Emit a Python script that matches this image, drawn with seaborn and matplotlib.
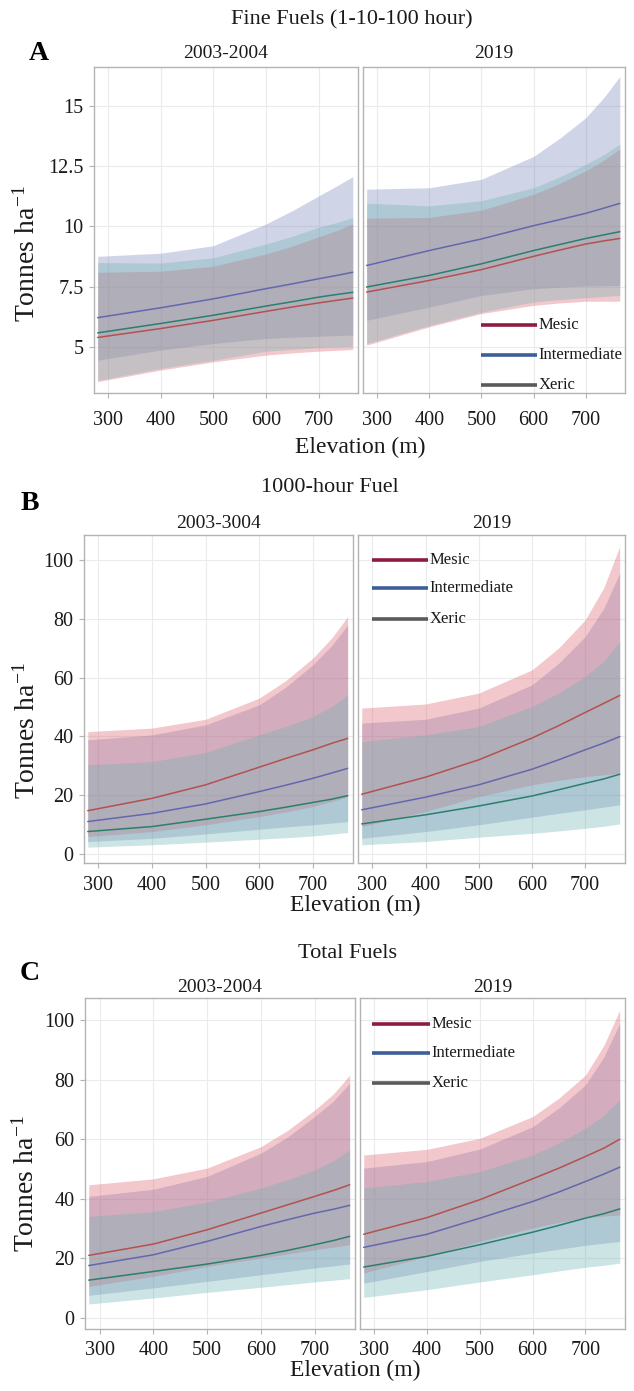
import numpy as np
import pandas as pd
import matplotlib
matplotlib.use("Agg")
import matplotlib.pyplot as plt
import seaborn as sns

# ---------------- data ----------------
elev = [280, 400, 500, 600, 650, 700, 735, 765]
types = ["Mesic", "Intermediate", "Xeric"]

# Panel A: Fine fuels, 2003-2004
a1_mes_fit = [5.40, 5.77, 6.11, 6.48, 6.66, 6.83, 6.94, 7.03]
a1_mes_lo = [3.57, 4.05, 4.39, 4.67, 4.76, 4.83, 4.87, 4.90]
a1_mes_hi = [8.10, 8.14, 8.35, 8.86, 9.18, 9.57, 9.83, 10.10]
a1_int_fit = [6.22, 6.63, 7.00, 7.42, 7.62, 7.83, 7.97, 8.10]
a1_int_lo = [4.46, 4.88, 5.15, 5.36, 5.41, 5.45, 5.48, 5.50]
a1_int_hi = [8.76, 8.89, 9.20, 10.10, 10.65, 11.26, 11.68, 12.06]
a1_xer_fit = [5.59, 5.98, 6.32, 6.70, 6.88, 7.07, 7.18, 7.27]
a1_xer_lo = [3.62, 4.12, 4.46, 4.83, 4.91, 4.98, 5.01, 5.04]
a1_xer_hi = [8.50, 8.48, 8.70, 9.27, 9.59, 9.96, 10.16, 10.37]
# Panel A: Fine fuels, 2019
a2_mes_fit = [7.28, 7.76, 8.21, 8.76, 9.02, 9.27, 9.40, 9.50]
a2_mes_lo = [5.08, 5.84, 6.39, 6.73, 6.83, 6.90, 6.90, 6.90]
a2_mes_hi = [10.34, 10.37, 10.67, 11.33, 11.78, 12.30, 12.75, 13.20]
a2_int_fit = [8.38, 9.00, 9.48, 10.03, 10.28, 10.54, 10.76, 10.95]
a2_int_lo = [6.11, 6.66, 7.14, 7.42, 7.48, 7.53, 7.54, 7.55]
a2_int_hi = [11.54, 11.60, 11.95, 12.90, 13.65, 14.50, 15.35, 16.20]
a2_xer_fit = [7.49, 7.97, 8.45, 9.00, 9.25, 9.50, 9.65, 9.78]
a2_xer_lo = [5.15, 5.90, 6.45, 6.87, 6.97, 7.05, 7.10, 7.14]
a2_xer_hi = [10.96, 10.85, 11.06, 11.60, 12.05, 12.57, 12.98, 13.40]

# Panel B: 1000-hour fuel, 2003-3004
b1_mes_fit = [14.7, 18.9, 23.5, 29.5, 32.5, 35.4, 37.6, 39.3]
b1_mes_lo = [5.9, 7.6, 9.9, 12.7, 14.3, 16.1, 17.8, 19.5]
b1_mes_hi = [41.6, 42.8, 45.8, 53.0, 59.0, 66.6, 73.4, 80.7]
b1_int_fit = [11.0, 13.8, 17.0, 21.2, 23.4, 25.7, 27.5, 29.1]
b1_int_lo = [4.2, 5.3, 6.8, 8.4, 9.2, 9.9, 10.5, 11.0]
b1_int_hi = [38.8, 40.5, 43.9, 50.7, 56.8, 64.3, 70.8, 77.9]
b1_xer_fit = [7.6, 9.3, 11.8, 14.4, 15.9, 17.5, 18.6, 19.8]
b1_xer_lo = [2.3, 3.1, 4.0, 5.0, 5.5, 6.1, 6.7, 7.3]
b1_xer_hi = [30.3, 31.4, 34.5, 40.5, 43.4, 46.7, 50.1, 54.1]
# Panel B: 1000-hour fuel, 2019
b2_mes_fit = [20.3, 26.1, 32.0, 39.4, 43.6, 48.1, 51.2, 53.9]
b2_mes_lo = [9.3, 14.4, 19.5, 23.5, 25.0, 26.3, 26.9, 27.4]
b2_mes_hi = [49.6, 51.0, 54.7, 62.6, 70.0, 79.6, 90.5, 104.6]
b2_int_fit = [15.0, 19.3, 23.5, 28.8, 32.0, 35.4, 37.7, 39.9]
b2_int_lo = [5.3, 7.6, 9.9, 12.5, 13.8, 15.0, 15.9, 16.7]
b2_int_hi = [44.5, 45.8, 49.6, 57.5, 64.8, 73.9, 83.5, 95.5]
b2_xer_fit = [10.2, 13.3, 16.3, 19.7, 21.8, 24.0, 25.5, 27.1]
b2_xer_lo = [3.1, 4.2, 5.7, 7.0, 7.8, 8.7, 9.4, 10.2]
b2_xer_hi = [38.2, 40.5, 43.3, 50.1, 54.7, 60.3, 65.6, 72.2]

# Panel C: Total fuels, 2003-2004
c1_mes_fit = [21.0, 24.8, 29.6, 35.2, 38.0, 40.8, 42.8, 44.7]
c1_mes_lo = [10.6, 14.0, 17.3, 20.1, 21.5, 22.9, 23.8, 24.6]
c1_mes_hi = [44.7, 46.7, 50.3, 57.5, 63.0, 69.8, 75.2, 81.5]
c1_int_fit = [17.6, 21.2, 25.7, 30.7, 33.0, 35.2, 36.5, 37.8]
c1_int_lo = [7.6, 10.1, 12.3, 14.5, 15.6, 16.8, 17.5, 18.1]
c1_int_hi = [40.8, 43.2, 47.5, 55.3, 60.8, 67.6, 72.8, 78.8]
c1_xer_fit = [12.7, 15.6, 18.1, 21.0, 22.7, 24.6, 26.0, 27.4]
c1_xer_lo = [4.7, 6.7, 8.6, 10.3, 11.2, 12.1, 12.7, 13.2]
c1_xer_hi = [34.1, 35.7, 38.9, 43.6, 46.4, 49.7, 52.8, 56.4]
# Panel C: Total fuels, 2019
c2_mes_fit = [28.1, 33.7, 39.7, 46.7, 50.3, 54.2, 57.0, 60.0]
c2_mes_lo = [15.1, 20.7, 25.7, 30.2, 32.1, 33.7, 34.2, 34.6]
c2_mes_hi = [54.7, 56.6, 60.3, 67.6, 73.8, 81.5, 91.5, 103.3]
c2_int_fit = [23.7, 28.1, 33.5, 39.1, 42.3, 45.8, 48.3, 50.6]
c2_int_lo = [11.7, 15.6, 19.0, 21.8, 23.1, 24.4, 25.1, 25.7]
c2_int_hi = [50.3, 52.5, 56.7, 64.2, 70.5, 78.2, 87.6, 98.9]
c2_xer_fit = [17.1, 20.7, 24.6, 28.8, 31.1, 33.5, 35.0, 36.6]
c2_xer_lo = [6.9, 9.5, 12.1, 14.5, 15.8, 17.0, 17.7, 18.4]
c2_xer_hi = [43.6, 45.8, 49.1, 54.7, 58.8, 63.7, 68.0, 73.2]

panel_titles = ["Fine Fuels (1-10-100 hour)", "1000-hour Fuel", "Total Fuels"]
panel_letters = ["A", "B", "C"]
period_labels = [["2003-2004", "2019"], ["2003-3004", "2019"], ["2003-2004", "2019"]]
x_ticks = [300, 400, 500, 600, 700]
y_ticks_a = [5, 7.5, 10, 12.5, 15]
y_tick_labels_a = ["5", "7.5", "10", "12.5", "15"]
y_ticks_bc = [0, 20, 40, 60, 80, 100]

# ---------------- assemble ----------------
series = {
    ("A", 0): (a1_mes_fit, a1_mes_lo, a1_mes_hi, a1_int_fit, a1_int_lo, a1_int_hi, a1_xer_fit, a1_xer_lo, a1_xer_hi),
    ("A", 1): (a2_mes_fit, a2_mes_lo, a2_mes_hi, a2_int_fit, a2_int_lo, a2_int_hi, a2_xer_fit, a2_xer_lo, a2_xer_hi),
    ("B", 0): (b1_mes_fit, b1_mes_lo, b1_mes_hi, b1_int_fit, b1_int_lo, b1_int_hi, b1_xer_fit, b1_xer_lo, b1_xer_hi),
    ("B", 1): (b2_mes_fit, b2_mes_lo, b2_mes_hi, b2_int_fit, b2_int_lo, b2_int_hi, b2_xer_fit, b2_xer_lo, b2_xer_hi),
    ("C", 0): (c1_mes_fit, c1_mes_lo, c1_mes_hi, c1_int_fit, c1_int_lo, c1_int_hi, c1_xer_fit, c1_xer_lo, c1_xer_hi),
    ("C", 1): (c2_mes_fit, c2_mes_lo, c2_mes_hi, c2_int_fit, c2_int_lo, c2_int_hi, c2_xer_fit, c2_xer_lo, c2_xer_hi),
}
rows = []
for (pan, per), vals in series.items():
    for k, t in enumerate(types):
        fit, lo, hi = vals[3 * k], vals[3 * k + 1], vals[3 * k + 2]
        for e, f, l, h in zip(elev, fit, lo, hi):
            rows.append(dict(panel=pan, period=per, type=t, elev=e, fit=f, lo=l, hi=h))
df = pd.DataFrame(rows)

# ---------------- style ----------------
sns.set_theme(style="whitegrid")
plt.rcParams["font.family"] = ["Liberation Serif", "DejaVu Serif"]
plt.rcParams["mathtext.fontset"] = "custom"
plt.rcParams["mathtext.rm"] = "Liberation Serif"
plt.rcParams["mathtext.it"] = "Liberation Serif:italic"

fill_colors = {"Mesic": (218/255, 98/255, 112/255),
               "Intermediate": (121/255, 132/255, 189/255),
               "Xeric": (112/255, 178/255, 178/255)}
line_colors = {"Mesic": "#b4514e", "Intermediate": "#6466ae", "Xeric": "#2c7f6c"}
legend_colors = {"Mesic": "#8e1c3e", "Intermediate": "#3d5d9b", "Xeric": "#5a5a5a"}
fill_order = ["Intermediate", "Mesic", "Xeric"]
FALPHA = 0.35

W, H = 634, 1391
fig = plt.figure(figsize=(W / 100, H / 100), dpi=100)
fig.patch.set_facecolor("white")

def px_axes(x, top, w, h):
    return fig.add_axes([x / W, 1 - (top + h) / H, w / W, h / H])

layout = {
    "A": dict(left=(94, 264), right=(363, 262), top=67, h=326, ylim=(3.1, 16.6), xpad=9.5),
    "B": dict(left=(84, 269), right=(358, 267), top=535, h=328, ylim=(-3.1, 108.5), xpad=6),
    "C": dict(left=(85, 270), right=(360, 265), top=998, h=331, ylim=(-3.7, 107.4), xpad=5),
}
text_pos = {
    "A": dict(title=(352, 20), letter=(39, 53), ylab=(27, 254), xlab=(360, 447), strip=53,
              leg=dict(x0=481, x1=537, ys=[325, 355, 385])),
    "B": dict(title=(330, 487), letter=(30, 503), ylab=(27, 731), xlab=(355, 905), strip=523,
              leg=dict(x0=372, x1=428, ys=[560, 588, 619])),
    "C": dict(title=(347, 953), letter=(30, 973), ylab=(26, 1184), xlab=(355, 1370), strip=988,
              leg=dict(x0=372, x1=430, ys=[1024, 1053, 1083])),
}

TICK_FS = 14.5
for pi, pan in enumerate(["A", "B", "C"]):
    L = layout[pan]
    T = text_pos[pan]
    for per, side in enumerate(["left", "right"]):
        x, w = L[side]
        ax = px_axes(x, L["top"], w, L["h"])
        ax.set_facecolor("white")
        sub = df[(df.panel == pan) & (df.period == per)]
        for t in fill_order:
            s = sub[sub.type == t]
            ax.fill_between(s.elev, s.lo, s.hi, color=fill_colors[t], alpha=FALPHA,
                            linewidth=0, zorder=2)
        sns.lineplot(data=sub, x="elev", y="fit", hue="type", hue_order=types,
                     palette=line_colors, legend=False, ax=ax, linewidth=1.1, zorder=3)
        ax.set_xlim(273, 775)
        ax.set_ylim(*L["ylim"])
        ax.set_xticks(x_ticks)
        if pan == "A":
            ax.set_yticks(y_ticks_a)
            ax.set_yticklabels(y_tick_labels_a)
        else:
            ax.set_yticks(y_ticks_bc)
        ax.grid(True, color="#ebebeb", linewidth=0.8, zorder=0)
        ax.set_axisbelow(True)
        for sp in ax.spines.values():
            sp.set_visible(True)
            sp.set_color("#b3b3b3")
            sp.set_linewidth(1.0)
        ax.tick_params(axis="x", which="major", length=3.5, width=0.8, color="#b3b3b3",
                       labelsize=TICK_FS, labelcolor="#1a1a1a", pad=L["xpad"], bottom=True)
        if per == 0:
            ax.tick_params(axis="y", which="major", length=3.5, width=0.8, color="#b3b3b3",
                           labelsize=TICK_FS, labelcolor="#1a1a1a", pad=4, left=True)
        else:
            ax.tick_params(axis="y", left=False, labelleft=False)
        ax.set_xlabel("")
        ax.set_ylabel("")
        # strip label
        fig.text((x + w / 2) / W, 1 - T["strip"] / H, period_labels[pi][per],
                 ha="center", va="center", fontsize=14, color="#1a1a1a")
        if per == 1:
            lg = T["leg"]
            for t, yy in zip(types, lg["ys"]):
                fig.add_artist(plt.Line2D([lg["x0"] / W, lg["x1"] / W], [1 - yy / H, 1 - yy / H],
                                          color=legend_colors[t], linewidth=2.6,
                                          solid_capstyle="butt"))
                fig.text(lg["x1"] / W + 0.002, 1 - yy / H, t, ha="left", va="center",
                         fontsize=12, color="#1a1a1a")
    fig.text(T["title"][0] / W, 1 - T["title"][1] / H, panel_titles[pi], ha="center",
             va="center", fontsize=16, color="#1a1a1a")
    fig.text(T["letter"][0] / W, 1 - T["letter"][1] / H, panel_letters[pi], ha="center",
             va="center", fontsize=20, fontweight="bold", color="black")
    fig.text(T["ylab"][0] / W, 1 - T["ylab"][1] / H, "Tonnes ha$^{\\mathregular{-1}}$",
             rotation=90, ha="center", va="center", fontsize=20, color="#1a1a1a")
    fig.text(T["xlab"][0] / W, 1 - T["xlab"][1] / H, "Elevation (m)", ha="center",
             va="center", fontsize=17, color="#1a1a1a")

fig.savefig("out.png", dpi=100, facecolor="white")
